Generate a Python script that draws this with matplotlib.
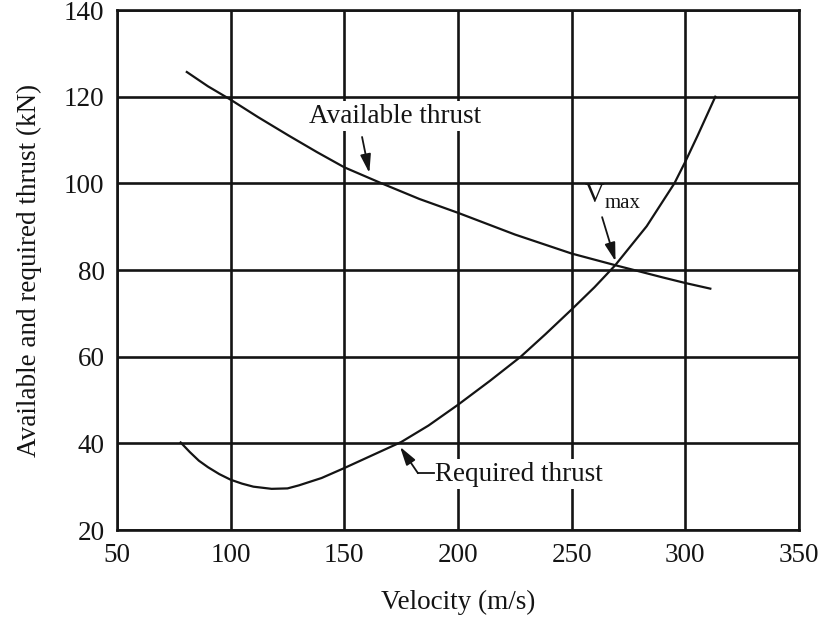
import matplotlib
matplotlib.use("Agg")
import matplotlib.pyplot as plt

# Thrust curves (kN) against flight velocity (m/s)
avail_v = [80.7, 90, 100, 112, 125.6, 138, 150, 166.4, 183, 200, 225, 250, 270, 290, 300, 311]
avail_t = [125.7, 122.4, 119.3, 115.3, 111.0, 107.2, 103.7, 100.0, 96.4, 93.2, 88.2, 83.8, 81.0, 78.3, 77.0, 75.7]

req_v = [78, 82, 86, 90, 95, 100, 105, 110, 118, 125, 130, 140, 150, 160, 175, 187,
         200, 214, 227.6, 238.5, 250, 260, 269, 283, 295.2, 300, 305.4, 313.2]
req_t = [40.2, 38.0, 36.0, 34.5, 32.9, 31.6, 30.7, 30.0, 29.5, 29.6, 30.3, 32.0, 34.3, 36.7, 40.3, 44.1,
         48.9, 54.4, 60.0, 65.2, 70.9, 76.0, 81.0, 90.1, 100.0, 105.0, 111.0, 120.0]

x_ticks = [50, 100, 150, 200, 250, 300, 350]
y_ticks = [20, 40, 60, 80, 100, 120, 140]

plt.rcParams["font.family"] = ["Liberation Serif", "DejaVu Serif"]
ink = "#141414"

fig = plt.figure(figsize=(8.27, 6.27), dpi=100)
ax = fig.add_axes([0.1415, 0.1547, 0.8246, 0.8293])

ax.set_xlim(50, 350)
ax.set_ylim(20, 140)
ax.set_xticks(x_ticks)
ax.set_yticks(y_ticks)
ax.tick_params(length=0, pad=9, labelsize=19.5, colors=ink)
ax.grid(True, color=ink, linewidth=1.9, zorder=1)
for s in ax.spines.values():
    s.set_linewidth(1.9)
    s.set_color(ink)

ax.plot(avail_v, avail_t, color=ink, linewidth=1.6, zorder=3, solid_joinstyle="round")
ax.plot(req_v, req_t, color=ink, linewidth=1.6, zorder=3, solid_joinstyle="round")

ax.set_xlabel("Velocity (m/s)", fontsize=19.5, color=ink, labelpad=16)
ax.set_ylabel("Available and required thrust (kN)", fontsize=19.5, color=ink, labelpad=16)

arrow = dict(arrowstyle="-|>,head_length=0.7,head_width=0.2", color=ink,
             linewidth=1.3, shrinkA=0, shrinkB=0, mutation_scale=16)
box = dict(facecolor="white", edgecolor="none", pad=2)

# Available thrust label
ax.text(172.5, 115.5, "Available thrust", fontsize=19.5, color=ink,
        ha="center", va="center", bbox=box, zorder=4)
ax.annotate("", xy=(161.0, 102.4), xytext=(157.8, 110.7), arrowprops=arrow, zorder=5)

# Vmax label
ax.text(255.9, 97.1, "V", fontsize=19.5, color=ink, ha="left", va="center", zorder=4)
ax.text(264.5, 95.4, "max", fontsize=15, color=ink, ha="left", va="center", zorder=4)
ax.annotate("", xy=(269.3, 82.0), xytext=(263.4, 92.2), arrowprops=arrow, zorder=5)

# Required thrust label with bent leader
ax.text(190.0, 32.9, "Required thrust", fontsize=19.5, color=ink,
        ha="left", va="center", bbox=box, zorder=4)
ax.plot([182.4, 189.5], [33.1, 33.1], color=ink, linewidth=1.3, zorder=5)
ax.annotate("", xy=(174.5, 39.2), xytext=(182.4, 33.1), arrowprops=arrow, zorder=5)

fig.savefig("out.png", dpi=100)
